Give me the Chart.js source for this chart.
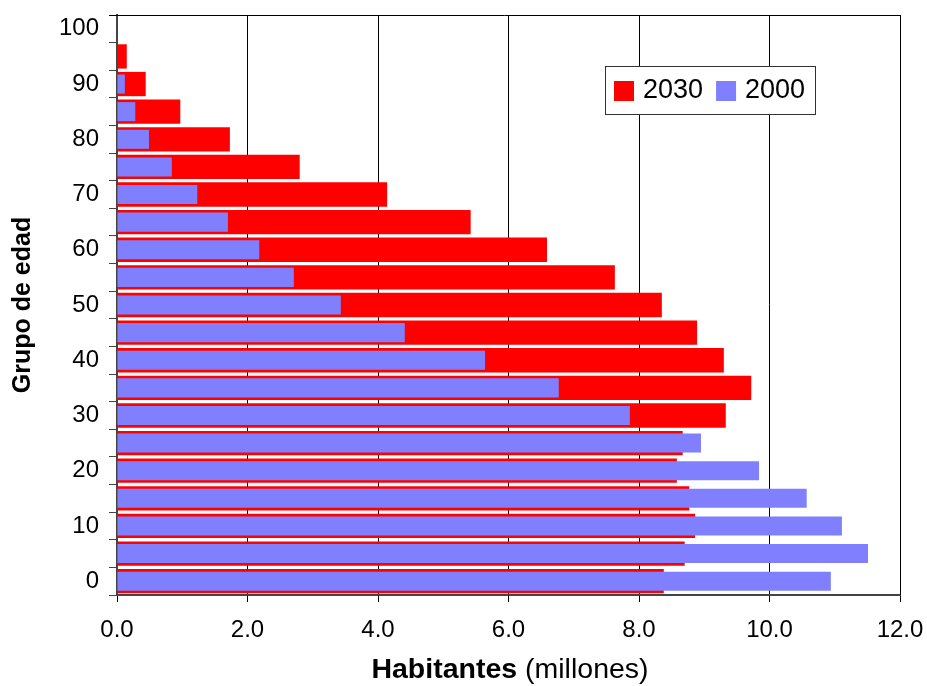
<!DOCTYPE html>
<html>
<head>
<meta charset="utf-8">
<title>Grupo de edad</title>
<script src="https://cdn.jsdelivr.net/npm/chart.js@4.4.1/dist/chart.umd.min.js"></script>
<style>
  html, body { margin: 0; padding: 0; background: #fff; }
  #wrap { width: 927px; height: 686px; position: relative; }
</style>
</head>
<body>
<div id="wrap"><canvas id="chartPiramide"></canvas></div>
<script>
// grupos de edad, de 0 a 100 (el eje se invierte para dejar 0 abajo)
const edades = ['0', '5', '10', '15', '20', '25', '30', '35', '40', '45', '50',
  '55', '60', '65', '70', '75', '80', '85', '90', '95', '100'];

// millones de habitantes
const pob2030 = [8.38, 8.70, 8.86, 8.77, 8.58, 8.67, 9.33, 9.72, 9.30, 8.89, 8.35,
  7.63, 6.59, 5.42, 4.14, 2.80, 1.73, 0.97, 0.44, 0.15, 0];
const pob2000 = [10.94, 11.51, 11.11, 10.57, 9.84, 8.95, 7.86, 6.77, 5.64, 4.41, 3.43,
  2.71, 2.18, 1.70, 1.23, 0.84, 0.49, 0.28, 0.12, 0, 0];

const etiquetasX = ['0.0', '2.0', '4.0', '6.0', '8.0', '10.0', '12.0'];

const FUENTE = 'Arial, "Liberation Sans", sans-serif';
Chart.defaults.font.family = FUENTE;
Chart.defaults.color = '#000';

// marco superior y derecho del area de trazado
const marcoPlugin = {
  id: 'marco',
  afterDatasetsDraw(chart) {
    const { ctx, chartArea: a } = chart;
    ctx.save();
    ctx.strokeStyle = '#000';
    ctx.lineWidth = 1;
    ctx.beginPath();
    ctx.moveTo(a.left - 8, a.top + 0.5);
    ctx.lineTo(a.right + 0.5, a.top + 0.5);
    ctx.lineTo(a.right + 0.5, a.bottom);
    ctx.stroke();
    ctx.restore();
  },
};

// titulo del eje x con dos pesos de letra
const tituloXPlugin = {
  id: 'tituloX',
  afterDraw(chart) {
    const { ctx, chartArea: a } = chart;
    const negrita = 'bold 28.5px ' + FUENTE;
    const normal = '28.5px ' + FUENTE;
    const t1 = 'Habitantes';
    const t2 = ' (millones)';
    ctx.save();
    ctx.font = negrita;
    const w1 = ctx.measureText(t1).width;
    ctx.font = normal;
    const w2 = ctx.measureText(t2).width;
    const x = (a.left + a.right) / 2 + 1.5 - (w1 + w2) / 2;
    const y = 670;
    ctx.textBaseline = 'middle';
    ctx.fillStyle = '#000';
    ctx.font = negrita;
    ctx.fillText(t1, x, y);
    ctx.font = normal;
    ctx.fillText(t2, x + w1, y);
    ctx.restore();
  },
};

// leyenda con recuadro dentro del area de trazado
const leyendaPlugin = {
  id: 'leyendaCaja',
  afterDraw(chart) {
    const { ctx, chartArea: a } = chart;
    const left = a.right - 295;
    const top = a.top + 51;
    const w = 210;
    const h = 48;
    ctx.save();
    ctx.fillStyle = '#fff';
    ctx.fillRect(left, top, w, h);
    ctx.strokeStyle = '#333';
    ctx.lineWidth = 1;
    ctx.strokeRect(left + 0.5, top + 0.5, w, h);
    ctx.font = '27px ' + FUENTE;
    ctx.textBaseline = 'middle';
    let x = left + 9;
    chart.data.datasets.forEach((ds) => {
      ctx.fillStyle = ds.backgroundColor;
      ctx.fillRect(x, top + 15, 20, 20);
      ctx.fillStyle = '#000';
      ctx.fillText(ds.label, x + 29, top + 25);
      x += 29 + ctx.measureText(ds.label).width + 13;
    });
    ctx.restore();
  },
};

const canvas = document.getElementById('chartPiramide');

const chart = new Chart(canvas, {
  type: 'bar',
  data: {
    labels: edades,
    datasets: [
      {
        label: '2030',
        data: pob2030,
        backgroundColor: '#FF0000',
        borderWidth: 0,
        grouped: false,
        barPercentage: 0.88,
        categoryPercentage: 1,
        order: 2,
      },
      {
        label: '2000',
        data: pob2000,
        backgroundColor: '#8080FF',
        borderWidth: 0,
        grouped: false,
        barPercentage: 0.69,
        categoryPercentage: 1,
        order: 1,
      },
    ],
  },
  options: {
    indexAxis: 'y',
    responsive: true,
    maintainAspectRatio: false,
    animation: false,
    layout: {
      padding: { top: 15, right: 27, bottom: 0, left: 0 },
    },
    plugins: {
      legend: { display: false },
      tooltip: { enabled: false },
    },
    scales: {
      x: {
        min: 0,
        max: 12,
        afterFit: (scale) => {
          scale.height = 91;
          scale.paddingLeft = 0;
          scale.paddingRight = 0;
        },
        ticks: {
          stepSize: 2,
          padding: 14,
          font: { size: 24 },
          color: '#000',
          callback: (value, index) => etiquetasX[index],
        },
        grid: {
          color: '#000',
          lineWidth: 1,
          tickLength: 7,
        },
        border: { color: '#444', width: 2 },
      },
      y: {
        reverse: true,
        afterFit: (scale) => {
          scale.width = 117;
          scale.paddingTop = 0;
          scale.paddingBottom = 0;
        },
        title: {
          display: true,
          text: 'Grupo de edad',
          font: { size: 25, weight: 'bold' },
          padding: { top: 8, bottom: 0 },
          color: '#000',
        },
        ticks: {
          autoSkip: false,
          padding: 10,
          font: { size: 24 },
          color: '#000',
          callback: function (value) {
            const etiqueta = this.getLabelForValue(value);
            return Number(etiqueta) % 10 === 0 ? etiqueta : '';
          },
        },
        grid: {
          offset: true,
          drawOnChartArea: false,
          tickLength: 8,
          color: '#444',
        },
        border: { color: '#444', width: 2 },
      },
    },
  },
  plugins: [marcoPlugin, leyendaPlugin, tituloXPlugin],
});
</script>
</body>
</html>
